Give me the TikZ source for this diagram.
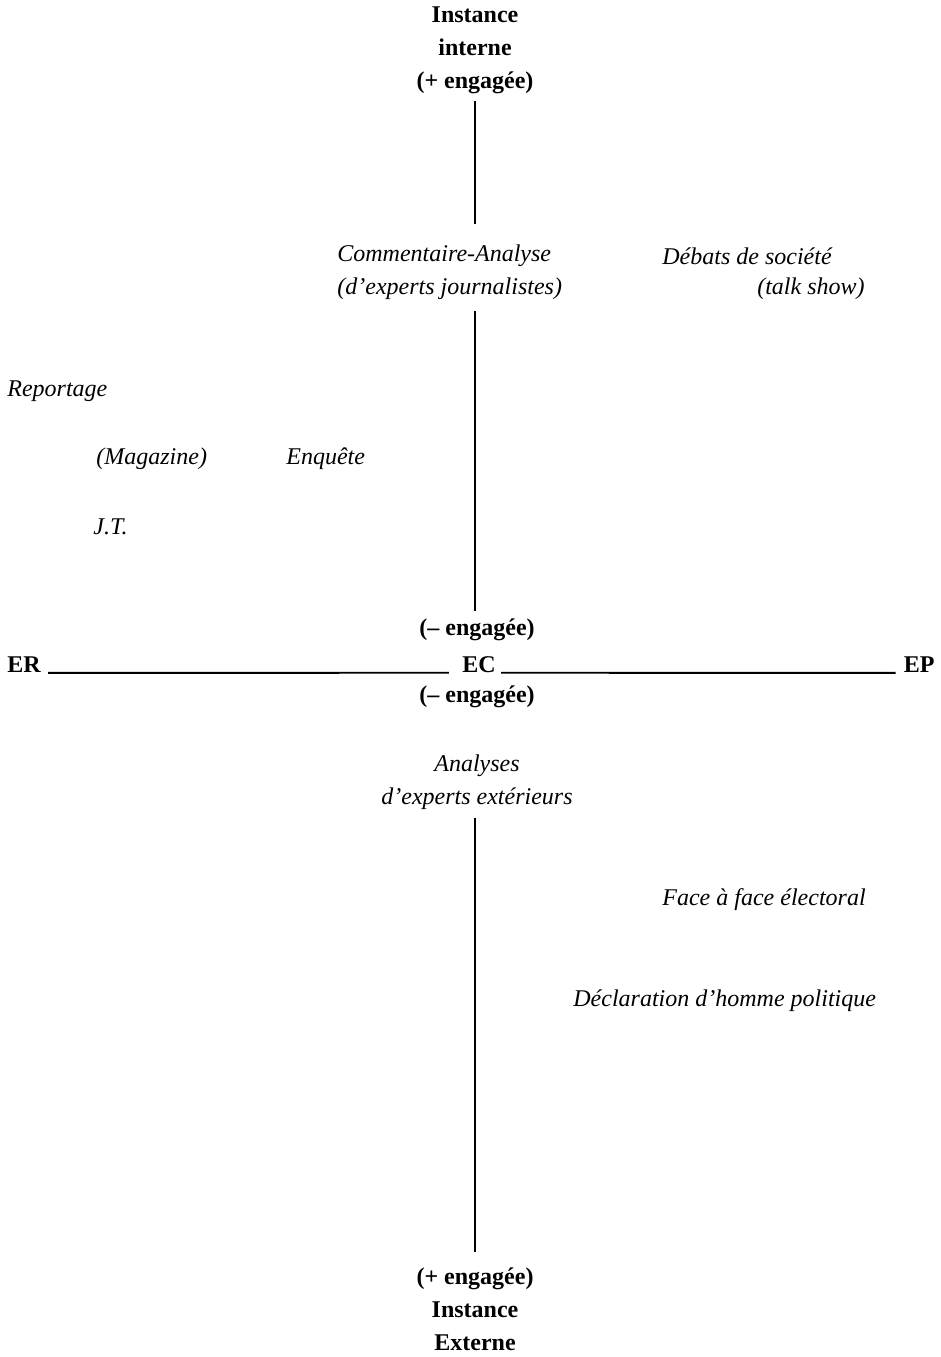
\documentclass[tikz,border=0pt]{standalone}
\usepackage{fontspec}
\setmainfont{Liberation Serif}
\usetikzlibrary{positioning}
\tikzset{
  pole/.style={font=\fontsize{12}{16.5}\selectfont\bfseries, align=center, inner sep=0pt},
  genre/.style={font=\fontsize{12}{16.5}\selectfont\itshape, inner sep=0pt},
  axe/.style={line width=0.9pt, draw=black},
}

\begin{document}
\begin{tikzpicture}[x=0.5pt,y=-0.5pt]
  \useasboundingbox (0,0) rectangle (941,1357);
  % poles of the vertical axis
  \node[pole] (interne) at (475,50) {Instance\\interne\\(+ engagée)};
  \node[pole] (moinsA) at (477,630) {(– engagée)};
  \node[pole] (moinsB) at (477,697) {(– engagée)};
  \node[pole] (externe) at (475,1309) {(+ engagée)\\Instance\\Externe};
  % horizontal axis
  \node[pole, anchor=west] (ER) at (7,665) {ER};
  \node[pole] (EC) at (479,665) {EC};
  \node[pole, anchor=east] (EP) at (935,665) {EP};
  % genres
  \node[genre, align=left, anchor=west] (comment) at (337,272) {Commentaire-Analyse\\(d’experts journalistes)};
  \node[genre, anchor=west] (debats) at (662,256) {Débats de société};
  \node[genre, anchor=east] (talk) at (865,289) {(talk show)};
  \node[genre, anchor=west] (reportage) at (7,391) {Reportage};
  \node[genre, anchor=west] (magazine) at (96,459) {(Magazine)};
  \node[genre, anchor=west] (enquete) at (286,459) {Enquête};
  \node[genre, anchor=west] (jt) at (93,527) {J.T.};
  \node[genre, align=center] (analyses) at (477,782) {Analyses\\d’experts extérieurs};
  \node[genre, anchor=west] (face) at (662,900) {Face à face électoral};
  \node[genre, anchor=west] (declaration) at (573,1001) {Déclaration d’homme politique};
  % axes
  \draw[axe] ([yshift=-3.5pt]interne.south) -- ([yshift=10pt]interne.south |- comment.north);
  \draw[axe] ([yshift=-5.5pt]interne.south |- comment.south) -- ([yshift=4pt]interne.south |- moinsA.north);
  \draw[axe] ([yshift=-4pt]externe.north |- analyses.south) -- ([yshift=7.5pt]externe.north);
  \draw[axe] ([xshift=3.5pt]ER.base east) -- ([xshift=-6.5pt]EC.base west);
  \draw[axe] ([xshift=2.5pt]EC.base east) -- ([xshift=-4pt]EP.base west);
\end{tikzpicture}
\end{document}
